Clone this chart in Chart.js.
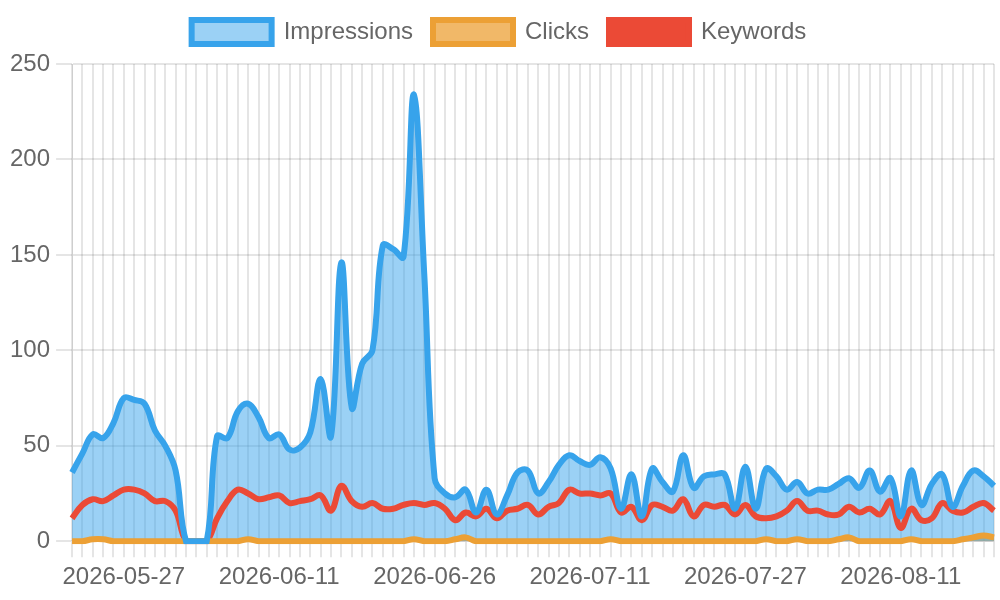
<!DOCTYPE html>
<html>
<head>
<meta charset="utf-8">
<script src="https://cdn.jsdelivr.net/npm/chart.js@4.4.1/dist/chart.umd.min.js"></script>
<style>
  html, body { margin: 0; padding: 0; background: #fff; }
  #wrap { width: 1000px; height: 600px; }
</style>
</head>
<body>
<div id="wrap"><canvas id="myChart"></canvas></div>
<script>
const labels = [
  "2026-05-22", "2026-05-23", "2026-05-24", "2026-05-25", "2026-05-26", "2026-05-27", "2026-05-28", "2026-05-29", "2026-05-30", "2026-05-31",
  "2026-06-01", "2026-06-02", "2026-06-03", "2026-06-04", "2026-06-05", "2026-06-06", "2026-06-07", "2026-06-08", "2026-06-09", "2026-06-10",
  "2026-06-11", "2026-06-12", "2026-06-13", "2026-06-14", "2026-06-15", "2026-06-16", "2026-06-17", "2026-06-18", "2026-06-19", "2026-06-20",
  "2026-06-21", "2026-06-22", "2026-06-23", "2026-06-24", "2026-06-25", "2026-06-26", "2026-06-27", "2026-06-28", "2026-06-29", "2026-06-30",
  "2026-07-01", "2026-07-02", "2026-07-03", "2026-07-04", "2026-07-05", "2026-07-06", "2026-07-07", "2026-07-08", "2026-07-09", "2026-07-10",
  "2026-07-11", "2026-07-12", "2026-07-13", "2026-07-14", "2026-07-15", "2026-07-16", "2026-07-17", "2026-07-18", "2026-07-20", "2026-07-21",
  "2026-07-22", "2026-07-23", "2026-07-24", "2026-07-25", "2026-07-26", "2026-07-27", "2026-07-28", "2026-07-29", "2026-07-30", "2026-07-31",
  "2026-08-01", "2026-08-02", "2026-08-03", "2026-08-04", "2026-08-05", "2026-08-06", "2026-08-07", "2026-08-08", "2026-08-09", "2026-08-10",
  "2026-08-11", "2026-08-12", "2026-08-13", "2026-08-14", "2026-08-15", "2026-08-16", "2026-08-17", "2026-08-18", "2026-08-19", "2026-08-20"
];

const impressions = [
  36, 46, 56, 54, 62, 75, 74, 72, 58, 50,
  37, 0, 0, 0, 55, 54, 68, 72, 65, 54,
  56, 48, 49, 57, 85, 55, 146, 70, 93, 100,
  155, 153, 149, 234, 140, 33, 25, 23, 27, 15,
  27, 14, 24, 36, 37, 25, 31, 40, 45, 42,
  40, 44, 38, 17, 35, 13, 38, 31, 26, 45,
  28, 34, 35, 35, 17, 39, 17, 38, 34, 27,
  31, 25, 27, 27, 30, 33, 28, 37, 26, 33,
  13, 37, 19, 30, 35, 18, 29, 37, 34, 29
];

const clicks = [
  0, 0, 1, 1, 0, 0, 0, 0, 0, 0,
  0, 0, 0, 0, 0, 0, 0, 1, 0, 0,
  0, 0, 0, 0, 0, 0, 0, 0, 0, 0,
  0, 0, 0, 1, 0, 0, 0, 1, 2, 0,
  0, 0, 0, 0, 0, 0, 0, 0, 0, 0,
  0, 0, 1, 0, 0, 0, 0, 0, 0, 0,
  0, 0, 0, 0, 0, 0, 0, 1, 0, 0,
  1, 0, 0, 0, 1, 2, 0, 0, 0, 0,
  0, 1, 0, 0, 0, 0, 1, 2, 3, 2
];

const keywords = [
  12, 19, 22, 21, 24, 27, 27, 25, 21, 21,
  16, 0, 0, 0, 12, 21, 27, 25, 22, 23,
  24, 20, 21, 22, 24, 16, 29, 21, 18, 20,
  17, 17, 19, 20, 19, 20, 17, 11, 15, 13,
  17, 12, 16, 17, 19, 14, 18, 20, 27, 25,
  25, 24, 25, 15, 18, 11, 19, 18, 16, 22,
  13, 19, 18, 19, 14, 19, 13, 12, 13, 16,
  21, 16, 16, 14, 14, 18, 15, 17, 14, 21,
  7, 17, 11, 12, 20, 16, 15, 18, 20, 16
];

const blue = "#37a3eb";
const orange = "#eca035";
const red = "#eb4a36";

Chart.defaults.font.size = 24;
Chart.defaults.color = "#666";

// a bit more room between legend and plot
const legendGap = {
  id: "legendGap",
  beforeInit(chart) {
    const origFit = chart.legend.fit;
    chart.legend.fit = function () {
      origFit.bind(chart.legend)();
      this.height += 10;
    };
  },
};

const ctx = document.getElementById("myChart").getContext("2d");
const myChart = new Chart(ctx, {
  type: "line",
  data: {
    labels: labels,
    datasets: [
      {
        label: "Impressions",
        data: impressions,
        borderColor: blue,
        backgroundColor: "rgba(55, 163, 235, 0.5)",
        fill: "origin",
      },
      {
        label: "Clicks",
        data: clicks,
        borderColor: orange,
        backgroundColor: "rgba(236, 160, 53, 0.75)",
        fill: "origin",
      },
      {
        label: "Keywords",
        data: keywords,
        borderColor: red,
        backgroundColor: red,
        fill: false,
      },
    ],
  },
  options: {
    responsive: true,
    maintainAspectRatio: false,
    animation: false,
    layout: {
      padding: { left: 4, right: 6, top: 0, bottom: 2 },
    },
    elements: {
      line: { borderWidth: 6, tension: 0.4 },
      point: { radius: 0 },
    },
    plugins: {
      filler: { drawTime: "beforeDatasetsDraw" },
      legend: {
        position: "top",
        labels: {
          boxWidth: 80,
          padding: 20,
        },
      },
      tooltip: { enabled: false },
    },
    scales: {
      x: {
        grid: { lineWidth: 2, tickLength: 16 },
        ticks: {
          autoSkip: false,
          maxRotation: 0,
          padding: 6,
          callback: function (value, index) {
            return index % 15 === 5 ? labels[index] : "";
          },
        },
      },
      y: {
        beginAtZero: true,
        suggestedMax: 250,
        grid: { lineWidth: 2, tickLength: 16 },
        ticks: { stepSize: 50, padding: 6 },
      },
    },
  },
  plugins: [legendGap],
});
</script>
</body>
</html>
